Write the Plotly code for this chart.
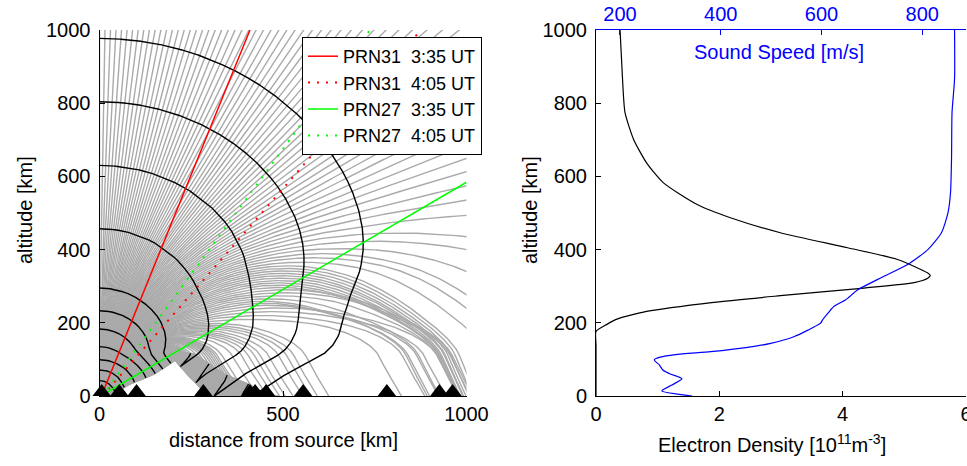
import numpy as np
import plotly.graph_objects as go

# ---------------- data ----------------
# sound-speed profile (right panel, blue curve, top axis)
sound_alt_km = [0, 14, 30, 47, 60, 71, 85, 99, 106, 113, 121, 132, 144, 162, 180, 199, 208,
                230, 245, 263, 290, 323, 359, 400, 446, 501, 556, 650, 775, 866, 1000]
sound_speed_ms = [343, 283, 303, 323, 300, 285, 278, 268, 280, 310, 380, 450, 499, 545, 573, 598, 602,
                  615, 625, 648, 672, 718, 771, 811, 838, 851, 856, 858, 859, 864, 864]

# electron density profile (right panel, black curve, bottom axis), units 1e11 m^-3
ne_alt_km = [0, 60, 100, 140, 176, 195, 210, 231, 256, 274, 295, 310, 322, 329, 336, 373, 405,
             446, 487, 523, 583, 637, 701, 775, 866, 1000]
ne_1e11 = [0, 0, 0, 0, 0, 0.17, 0.34, 0.82, 1.91, 2.99, 4.35, 5.16, 5.38, 5.42, 5.38, 4.89, 4.08,
           2.99, 2.18, 1.64, 1.09, 0.82, 0.61, 0.47, 0.43, 0.39]

# ground stations (triangles), distance from source [km]
station_dist_km = [6, 54, 101, 283, 410, 424, 454, 555, 783, 926, 962]

# altitudes where the wavefronts cross the vertical above the source [km]
wavefront_top_alt_km = [42, 71, 99, 135, 183, 233, 295, 457, 630, 804, 977]

# satellite lines of sight (distance [km], altitude [km])
prn31_0335_dist = [5, 410]
prn31_0335_alt = [0, 1000]
prn31_0405_dist = [8, 876]
prn31_0405_alt = [0, 1000]
prn27_0335_dist = [3, 1000]
prn27_0335_alt = [0, 584]
prn27_0405_dist = [7, 737]
prn27_0405_alt = [0, 1000]

# ray launch elevation spacing [deg]
ray_elev_step_deg = 0.4

x_ticks_left = [0, 500, 1000]
y_ticks = [0, 200, 400, 600, 800, 1000]
ne_ticks = [0, 2, 4, 6]
sound_ticks = [200, 400, 600, 800]

# ---------------- acoustic ray tracing through the sound-speed profile ----------------
zg = np.arange(0.0, 1500.0, 0.5)
cg = np.interp(zg, sound_alt_km, sound_speed_ms)
win = 9
cs = np.convolve(np.pad(cg, win // 2, mode="edge"), np.ones(win) / win, mode="valid")
dcs = np.gradient(cs, zg)


def props(z):
    return np.interp(z, zg, cs), np.interp(z, zg, dcs)


fine = ray_elev_step_deg / 10.0
nfine = int(round(90.0 / fine))
theta = np.linspace(fine, 90.0, nfine)
n = theta.size
ds = 1.5
nmax = 2000
x = np.zeros(n)
z = np.zeros(n)
ph = np.radians(theta)
t = np.zeros(n)
alive = np.ones(n, bool)
X = np.empty((nmax + 1, n), np.float32)
Z = np.empty((nmax + 1, n), np.float32)
TT = np.empty((nmax + 1, n), np.float64)
X[0], Z[0], TT[0] = x, z, t
death = np.full(n, nmax)
last = nmax
for i in range(1, nmax + 1):
    c1, d1 = props(np.maximum(z, 0))
    k1z = np.sin(ph)
    k1p = -np.cos(ph) * d1 / c1
    zm = z + 0.5 * ds * k1z
    pm = ph + 0.5 * ds * k1p
    c2, d2 = props(np.maximum(zm, 0))
    xn = x + ds * np.cos(pm)
    zn = z + ds * np.sin(pm)
    pn = ph + ds * (-np.cos(pm) * d2 / c2)
    tn = t + ds * 1000.0 / c2
    hit = alive & (zn < 0)
    f = np.where(hit, z / np.maximum(z - zn, 1e-9), 1.0)
    xn = np.where(hit, x + f * (xn - x), xn)
    tn = np.where(hit, t + f * (tn - t), tn)
    zn = np.where(hit, 0.0, zn)
    x = np.where(alive, xn, x)
    z = np.where(alive, zn, z)
    ph = np.where(alive, pn, ph)
    t = np.where(alive, tn, t)
    died = alive & (hit | (x > 1300) | (z > 1300))
    death[died] = i
    alive &= ~died
    X[i], Z[i], TT[i] = x, z, t
    if not alive.any():
        last = i
        break
X = X[: last + 1]
Z = Z[: last + 1]
TT = TT[: last + 1]

# grey rays (every 10th fine ray)
rx, rz = [], []
for j in range(9, n, 10):
    d = death[j]
    idx = list(range(0, d + 1, 3))
    if idx[-1] != d:
        idx.append(d)
    px = X[idx, j]
    pz = Z[idx, j]
    out = np.where((px > 1005) | (pz > 1005))[0]
    if out.size:
        px = px[: out[0] + 1]
        pz = pz[: out[0] + 1]
    rx.extend(np.round(px, 1).tolist() + [None])
    rz.extend(np.round(pz, 1).tolist() + [None])

# wavefronts: equal travel-time curves, times from the vertical intercepts
tv = np.concatenate([[0.0], np.cumsum(0.5 * (1000.0 / cs[1:] + 1000.0 / cs[:-1]) * np.diff(zg))])
wx, wz = [], []
for h in wavefront_top_alt_km:
    T = np.interp(h, zg, tv)
    idx = (TT < T).sum(axis=0)
    valid = (TT[-1] >= T) & (idx >= 1) & (idx < TT.shape[0])
    i1 = np.clip(idx, 1, TT.shape[0] - 1)
    i0 = i1 - 1
    cols = np.arange(n)
    t0 = TT[i0, cols]
    t1 = TT[i1, cols]
    w = np.where(t1 > t0, (T - t0) / np.maximum(t1 - t0, 1e-12), 0.0)
    px = X[i0, cols] + w * (X[i1, cols] - X[i0, cols])
    pz = Z[i0, cols] + w * (Z[i1, cols] - Z[i0, cols])
    order = np.argsort(-theta)
    prev = None
    for j in order:
        if not valid[j] or px[j] > 1010 or pz[j] > 1010:
            if prev is not None:
                wx.append(None)
                wz.append(None)
            prev = None
            continue
        if prev is not None and np.hypot(px[j] - prev[0], pz[j] - prev[1]) > 40:
            wx.append(None)
            wz.append(None)
        wx.append(round(float(px[j]), 1))
        wz.append(round(float(pz[j]), 1))
        prev = (px[j], pz[j])
    wx.append(None)
    wz.append(None)

# ---------------- figure ----------------
FONT = "Liberation Sans, Arial, Helvetica, sans-serif"
fig = go.Figure()

fig.add_trace(go.Scatter(x=rx, y=rz, mode="lines", line=dict(color="#aaaaaa", width=1.4),
                         showlegend=False, hoverinfo="skip", xaxis="x", yaxis="y"))
fig.add_trace(go.Scatter(x=wx, y=wz, mode="lines", line=dict(color="black", width=1.4),
                         showlegend=False, hoverinfo="skip", xaxis="x", yaxis="y"))

nb = "\u00a0"
fig.add_trace(go.Scatter(x=prn31_0335_dist, y=prn31_0335_alt, mode="lines",
                         line=dict(color="#ff0000", width=1.5), name=f"PRN31{nb}{nb}3:35 UT"))
fig.add_trace(go.Scatter(x=prn31_0405_dist, y=prn31_0405_alt, mode="lines",
                         line=dict(color="#ff0000", width=2, dash="2px,7px"), name=f"PRN31{nb}{nb}4:05 UT"))
fig.add_trace(go.Scatter(x=prn27_0335_dist, y=prn27_0335_alt, mode="lines",
                         line=dict(color="#00ff00", width=1.5), name=f"PRN27{nb}{nb}3:35 UT"))
fig.add_trace(go.Scatter(x=prn27_0405_dist, y=prn27_0405_alt, mode="lines",
                         line=dict(color="#00ff00", width=2, dash="2px,7px"), name=f"PRN27{nb}{nb}4:05 UT"))

px_per_km = (396 - 30) / 1000.0
tri_size = 16
tri_offset_km = (tri_size / 4.0) / px_per_km
fig.add_trace(go.Scatter(x=station_dist_km, y=[tri_offset_km] * len(station_dist_km), mode="markers",
                         marker=dict(symbol="triangle-up", size=tri_size, color="black"),
                         showlegend=False, hoverinfo="skip", cliponaxis=False))

# right panel
fig.add_trace(go.Scatter(x=ne_1e11, y=ne_alt_km, mode="lines",
                         line=dict(color="black", width=1.2, shape="spline", smoothing=0.6),
                         showlegend=False, xaxis="x2", yaxis="y2"))
fig.add_trace(go.Scatter(x=sound_speed_ms, y=sound_alt_km, mode="lines",
                         line=dict(color="#0000ff", width=1.2, shape="spline", smoothing=0.6),
                         showlegend=False, xaxis="x3", yaxis="y2"))

ydom = [(466 - 396) / 466, (466 - 30) / 466]
axis_common = dict(showgrid=False, zeroline=False, showline=True, linecolor="black", linewidth=1,
                   ticks="inside", ticklen=5, tickcolor="black", automargin=False,
                   ticklabeloverflow="allow",
                   tickfont=dict(family=FONT, size=20, color="black"))

fig.update_layout(
    width=967, height=466, margin=dict(l=0, r=0, t=0, b=0, pad=0, autoexpand=False),
    paper_bgcolor="white", plot_bgcolor="white",
    font=dict(family=FONT, size=20, color="black"),
    xaxis=dict(domain=[99.5 / 967, 466.5 / 967], range=[0, 1000], tickvals=x_ticks_left, anchor="y", **axis_common),
    yaxis=dict(domain=ydom, range=[0, 1000], tickvals=y_ticks, anchor="x", ticklabelstandoff=4, **axis_common),
    xaxis2=dict(domain=[596 / 967, 966 / 967], range=[0, 6], tickvals=ne_ticks, anchor="y2", **axis_common),
    yaxis2=dict(domain=ydom, range=[0, 1000], tickvals=y_ticks, anchor="x2", ticklabelstandoff=4, **axis_common),
    xaxis3=dict(overlaying="x2", side="top", anchor="y2", range=[152.4, 886.7], tickvals=sound_ticks,
                showgrid=False, zeroline=False, showline=True, linecolor="#0000ff", linewidth=1,
                ticks="inside", ticklen=5, tickcolor="#0000ff", automargin=False,
                ticklabeloverflow="allow",
                tickfont=dict(family=FONT, size=20, color="#0000ff")),
    legend=dict(x=302 / 967, y=(466 - 37) / 466, xanchor="left", yanchor="top",
                bgcolor="white", bordercolor="black", borderwidth=1,
                font=dict(family=FONT, size=18, color="black"), tracegroupgap=0),
    annotations=[
        dict(text="distance from source [km]", x=283 / 967, y=(466 - 440) / 466, xref="paper", yref="paper",
             showarrow=False, xanchor="center", yanchor="middle", font=dict(family=FONT, size=20)),
        dict(text="altitude [km]", x=25 / 967, y=(466 - 210) / 466, xref="paper", yref="paper",
             showarrow=False, textangle=-90, xanchor="center", yanchor="middle", font=dict(family=FONT, size=20)),
        dict(text="altitude [km]", x=530 / 967, y=(466 - 210) / 466, xref="paper", yref="paper",
             showarrow=False, textangle=-90, xanchor="center", yanchor="middle", font=dict(family=FONT, size=20)),
        dict(text="Electron Density [10<sup>11</sup>m<sup>-3</sup>]", x=772 / 967, y=(466 - 443) / 466,
             xref="paper", yref="paper", showarrow=False, xanchor="center", yanchor="middle",
             font=dict(family=FONT, size=20)),
        dict(text="Sound Speed [m/s]", x=779 / 967, y=(466 - 52) / 466, xref="paper", yref="paper",
             showarrow=False, xanchor="center", yanchor="middle", font=dict(family=FONT, size=20, color="#0000ff")),
    ],
)

fig.write_html("out.html")
